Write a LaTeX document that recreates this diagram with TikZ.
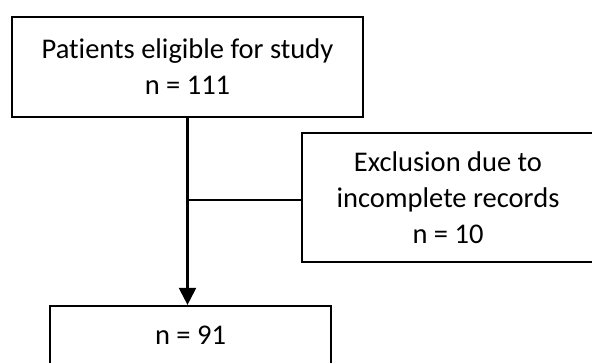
\documentclass[tikz,border=0pt]{standalone}
\usepackage{fontspec}
\setmainfont[Ligatures=NoCommon]{Carlito}
\usetikzlibrary{arrows.meta,positioning}
\tikzset{
  flowbox/.style={draw,line width=2.8pt,align=center,inner sep=0pt,
    font=\fontsize{28.5}{36}\selectfont},
  thinbox/.style={flowbox,line width=2.2pt}
}

\begin{document}
\begin{tikzpicture}[x=1pt,y=-1pt]
  \useasboundingbox (0,0) rectangle (592,362);

  \node[flowbox,minimum width=351pt,minimum height=100pt] (eligible) at (187.5,67)
    {Patients eligible for study\\ n = 111};

  \node[flowbox,minimum width=292pt,minimum height=129pt] (excluded) at (448,197.5)
    {Exclusion due to\\ incomplete records\\ n = 10};

  \node[thinbox,minimum width=281pt,minimum height=58pt] (final) at (190.5,335)
    {n = 91};

  \coordinate (split) at (eligible.south |- 0,200);

  \draw[line width=2.2pt,-{Triangle[length=17pt,width=17pt]}]
    (eligible.south) -- (eligible.south |- final.north);
  \draw[line width=2.2pt] (split) -- (split -| excluded.west);
\end{tikzpicture}
\end{document}
